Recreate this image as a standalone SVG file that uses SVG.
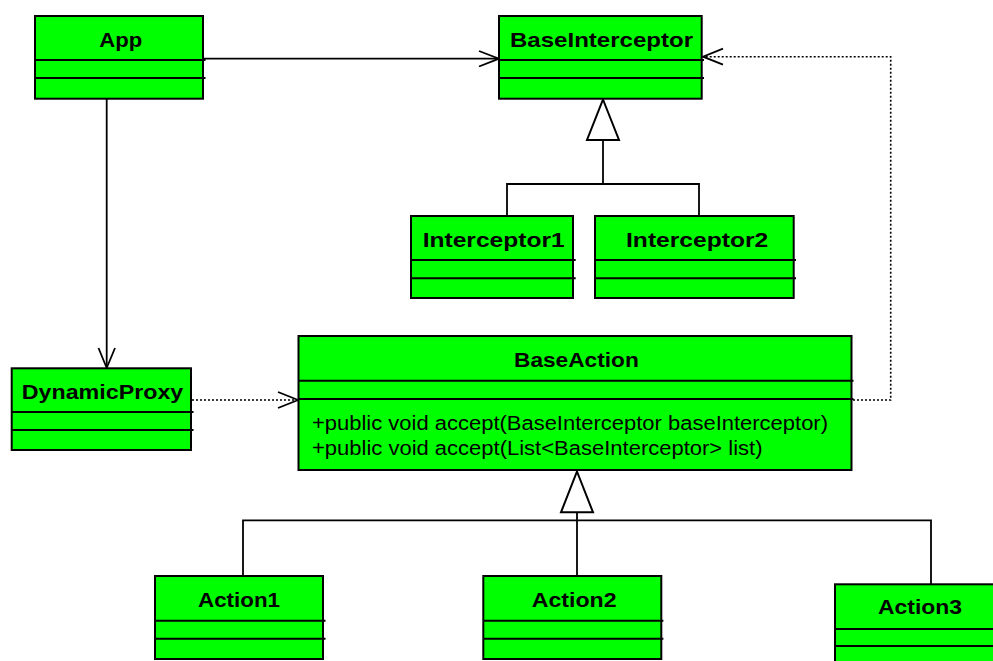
<svg xmlns="http://www.w3.org/2000/svg" width="993" height="661" viewBox="0 0 993 661">
<style>
.box{fill:#00ff00;stroke:#000;stroke-width:2}
.sep{stroke:#000;stroke-width:2;fill:none}
.t{font-family:"Liberation Sans",Arial,sans-serif;font-weight:bold;font-size:21px;fill:#000}
.m{font-family:"Liberation Sans",Arial,sans-serif;font-size:20px;fill:#000}
.ln{stroke:#000;stroke-width:1.8;fill:none}
.dot{stroke:#000;stroke-width:1.6;fill:none;stroke-dasharray:2 2}
.tri{fill:#fff;stroke:#000;stroke-width:2}
</style>
<rect width="993" height="661" fill="#fff"/>
<g id="connectors">
<line class="ln" x1="204" y1="58.7" x2="498" y2="58.7"/>
<polyline class="ln" points="479,51 499,58.7 479,66.5"/>
<line class="ln" x1="106.7" y1="99" x2="106.7" y2="367"/>
<polyline class="ln" points="98.5,348 106.7,368 115,348"/>
<line class="dot" x1="192" y1="400" x2="297" y2="400"/>
<polyline class="ln" points="278,392 298,400 278,408"/>
<polyline class="dot" points="853,400 890.7,400 890.7,56.7 703,56.7"/>
<polyline class="ln" points="723,48.7 703,56.7 723,64.7"/>
<line class="ln" x1="603" y1="140" x2="603" y2="184"/>
<polyline class="ln" points="507,216 507,184 699,184 699,216"/>
<polygon class="tri" points="603,99.5 619,140 587,140"/>
<line class="ln" x1="577" y1="512" x2="577" y2="576"/>
<polyline class="ln" points="243,576 243,520.3 931,520.3 931,584"/>
<polygon class="tri" points="577,471.5 593,512.3 561,512.3"/>
</g>
<g id="App">
<rect class="box" x="35" y="16" width="168" height="82.7"/>
<path class="sep" d="M35 60H205.5M35 78H205.5"/>
<text class="t" x="99.3" y="46.7" textLength="43" lengthAdjust="spacingAndGlyphs">App</text>
</g>
<g id="BaseInterceptor">
<rect class="box" x="499" y="16" width="202.7" height="82.7"/>
<path class="sep" d="M499 60H704M499 78H704"/>
<text class="t" x="510" y="46.7" textLength="183" lengthAdjust="spacingAndGlyphs">BaseInterceptor</text>
</g>
<g id="Interceptor1">
<rect class="box" x="411" y="216" width="162" height="82"/>
<path class="sep" d="M411 260H575.7M411 278.3H575.7"/>
<text class="t" x="422.7" y="247" textLength="142" lengthAdjust="spacingAndGlyphs">Interceptor1</text>
</g>
<g id="Interceptor2">
<rect class="box" x="595" y="216" width="198.7" height="82"/>
<path class="sep" d="M595 260H796M595 278.3H796"/>
<text class="t" x="626" y="247" textLength="142.3" lengthAdjust="spacingAndGlyphs">Interceptor2</text>
</g>
<g id="DynamicProxy">
<rect class="box" x="11.7" y="368.3" width="179.3" height="81.7"/>
<path class="sep" d="M11.7 412H193.5M11.7 430H193.5"/>
<text class="t" x="21.7" y="399" textLength="161.6" lengthAdjust="spacingAndGlyphs">DynamicProxy</text>
</g>
<g id="BaseAction">
<rect class="box" x="298.5" y="336" width="553" height="134"/>
<path class="sep" d="M298.5 380.7H853.5M298.5 399H853.5"/>
<text class="t" x="514" y="366.7" textLength="124.8" lengthAdjust="spacingAndGlyphs">BaseAction</text>
<text class="m" x="312" y="429.5" textLength="516" lengthAdjust="spacingAndGlyphs">+public void accept(BaseInterceptor baseInterceptor)</text>
<text class="m" x="312" y="455" textLength="450.5" lengthAdjust="spacingAndGlyphs">+public void accept(List&lt;BaseInterceptor&gt; list)</text>
</g>
<g id="Action1">
<rect class="box" x="155" y="576" width="168" height="83"/>
<path class="sep" d="M155 620.7H325.5M155 638.7H325.5"/>
<text class="t" x="198" y="606.7" textLength="82" lengthAdjust="spacingAndGlyphs">Action1</text>
</g>
<g id="Action2">
<rect class="box" x="483.3" y="576" width="178" height="83"/>
<path class="sep" d="M483.3 620.7H663.4M483.3 638.7H663.4"/>
<text class="t" x="531.7" y="606.7" textLength="84.9" lengthAdjust="spacingAndGlyphs">Action2</text>
</g>
<g id="Action3">
<rect class="box" x="835" y="584.3" width="170" height="90"/>
<path class="sep" d="M835 629H1005M835 646H1005"/>
<text class="t" x="878" y="614.3" textLength="84" lengthAdjust="spacingAndGlyphs">Action3</text>
</g>
</svg>
